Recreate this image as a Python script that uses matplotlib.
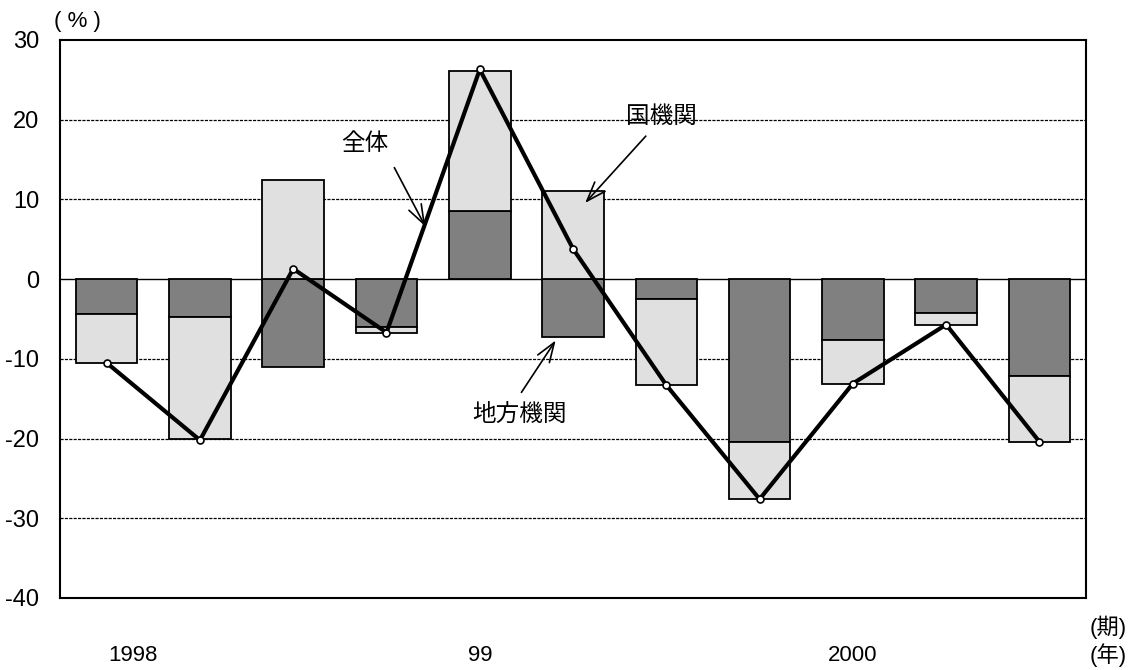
import numpy as np
import matplotlib.pyplot as plt

plt.rcParams['font.family'] = ['Liberation Sans', 'Noto Sans CJK JP', 'DejaVu Sans']
plt.rcParams['axes.unicode_minus'] = False

# quarterly contributions (%), 1998 Q1 .. 2000 Q3
local = [-4.4, -4.8, -11.0, -6.0, 8.5, -7.3, -2.5, -20.4, -7.6, -4.3, -12.1]
national = [-6.1, -15.3, 12.4, -0.8, 17.6, 11.0, -10.8, -7.2, -5.5, -1.5, -8.3]
total = [-10.5, -20.2, 1.3, -6.7, 26.3, 3.8, -13.3, -27.6, -13.1, -5.7, -20.4]
year_labels = ['1998', '99', '2000']
year_pos = [0.28, 4.0, 8.0]

x = np.arange(len(total))
local = np.array(local)
national = np.array(national)
nat_bottom = np.where(np.sign(local) == np.sign(national), local, 0)

fig = plt.figure(figsize=(11.37, 6.7), dpi=100)
ax = fig.add_axes([0.0528, 0.1075, 0.9024, 0.8328])

for yy in [20, 10, -10, -20, -30]:
    ax.axhline(yy, color='k', lw=0.9, ls=(0, (2.5, 1)), zorder=0)
ax.axhline(0, color='k', lw=1.0, zorder=1)

ax.bar(x, local, width=0.66, color='#808080', edgecolor='k', lw=1.3, zorder=2)
ax.bar(x, national, bottom=nat_bottom, width=0.66, color='#e0e0e0',
       edgecolor='k', lw=1.3, zorder=2)
ax.plot(x, total, color='k', lw=3, marker='o', ms=5, mfc='white', mec='k',
        mew=1.2, zorder=3)

ax.set_xlim(-0.5, len(total) - 0.5)
ax.set_ylim(-40, 30)
ax.set_yticks(range(-40, 31, 10))
ax.set_xticks([])
ax.tick_params(axis='y', length=0, labelsize=17, pad=15)
for s in ax.spines.values():
    s.set_linewidth(1.5)

arrow = dict(arrowstyle='->,head_length=1.4,head_width=0.5', lw=1.2, color='k')
ax.text(2.77, 16.9, '全体', fontsize=17, ha='center', va='center')
ax.annotate('', xy=(3.43, 6.3), xytext=(3.07, 14.3), arrowprops=arrow, zorder=4)
ax.text(5.95, 20.3, '国機関', fontsize=17, ha='center', va='center')
ax.annotate('', xy=(5.11, 9.3), xytext=(5.8, 18.2), arrowprops=arrow, zorder=4)
ax.text(4.43, -17.0, '地方機関', fontsize=17, ha='center', va='center')
ax.annotate('', xy=(4.83, -7.4), xytext=(4.43, -14.5), arrowprops=arrow, zorder=4)

for lab, p in zip(year_labels, year_pos):
    ax.text(p, -47.2, lab, fontsize=16, ha='center', va='center')

fig.text(77 / 1137, 1 - 22 / 670, '( % )', fontsize=16, ha='center', va='center')
fig.text(1108 / 1137, 1 - 627 / 670, '(期)', fontsize=16, ha='center', va='center')
fig.text(1108 / 1137, 1 - 655 / 670, '(年)', fontsize=16, ha='center', va='center')

fig.savefig('out.png', dpi=100)
